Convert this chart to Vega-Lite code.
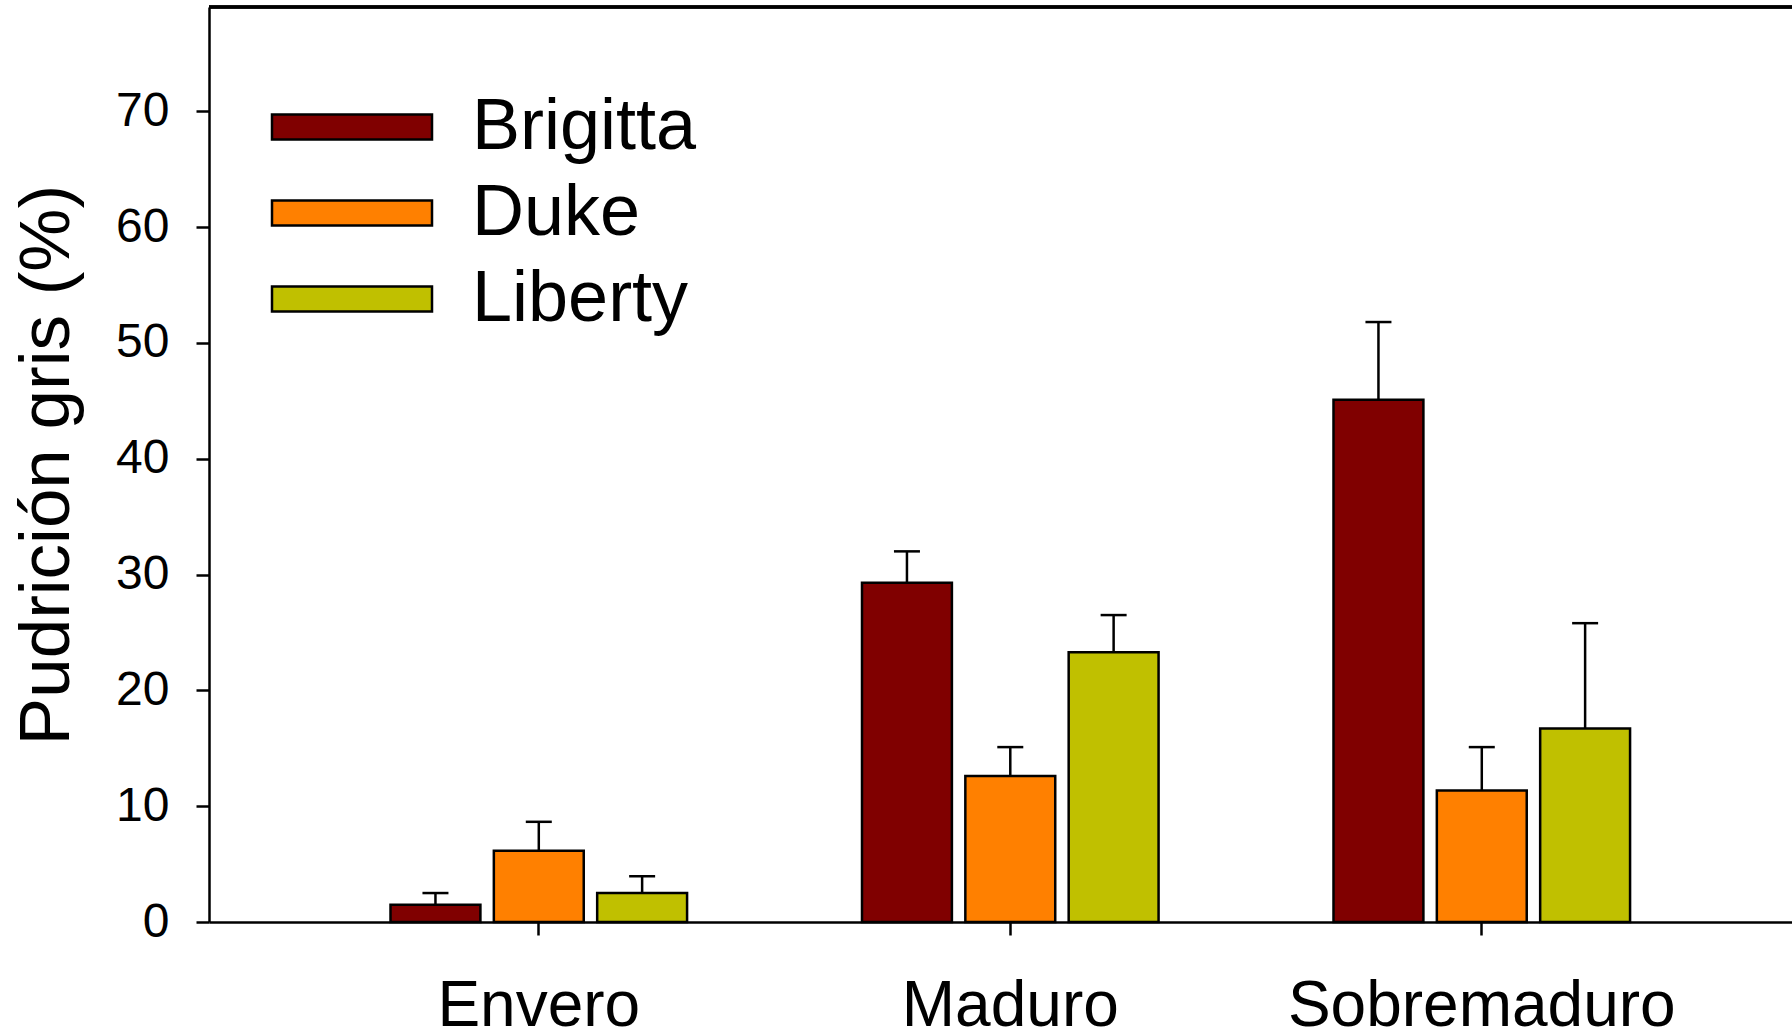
{
  "$schema": "https://vega.github.io/schema/vega-lite/v6.json",
  "width": 1583,
  "height": 915,
  "autosize": {"type": "none"},
  "padding": {"left": 209, "top": 7, "right": 0, "bottom": 109},
  "background": "white",
  "config": {
    "view": {"stroke": null},
    "font": "Liberation Sans",
    "axis": {"grid": false, "domainColor": "black", "domainWidth": 2.5, "tickColor": "black", "tickWidth": 2.5, "tickSize": 13, "labelColor": "black", "titleColor": "black", "labelFont": "Liberation Sans", "titleFont": "Liberation Sans"}
  },
  "data": {
    "values": [
      {"etapa": "Envero", "variedad": "Brigitta", "media": 1.5, "sup": 2.5},
      {"etapa": "Envero", "variedad": "Duke", "media": 6.15, "sup": 8.65},
      {"etapa": "Envero", "variedad": "Liberty", "media": 2.5, "sup": 3.95},
      {"etapa": "Maduro", "variedad": "Brigitta", "media": 29.3, "sup": 32.0},
      {"etapa": "Maduro", "variedad": "Duke", "media": 12.6, "sup": 15.1},
      {"etapa": "Maduro", "variedad": "Liberty", "media": 23.3, "sup": 26.5},
      {"etapa": "Sobremaduro", "variedad": "Brigitta", "media": 45.1, "sup": 51.8},
      {"etapa": "Sobremaduro", "variedad": "Duke", "media": 11.35, "sup": 15.1},
      {"etapa": "Sobremaduro", "variedad": "Liberty", "media": 16.7, "sup": 25.8}
    ]
  },
  "encoding": {
    "x": {
      "field": "etapa",
      "type": "nominal",
      "scale": {"domain": ["Envero", "Maduro", "Sobremaduro"], "paddingInner": 0.371, "paddingOuter": 0.3642, "align": 0.5285},
      "axis": {"title": null, "labelAngle": 0, "labelFontSize": 64, "labelBaseline": "alphabetic", "labelPadding": 90, "labelLimit": 0}
    },
    "xOffset": {
      "field": "variedad",
      "type": "nominal",
      "scale": {"domain": ["Brigitta", "Duke", "Liberty"], "paddingInner": 0.13, "paddingOuter": 0}
    }
  },
  "layer": [
    {
      "mark": {"type": "bar", "stroke": "black", "strokeWidth": 2.5, "opacity": 1},
      "encoding": {
        "y": {
          "field": "media",
          "type": "quantitative",
          "scale": {"domain": [0, 79], "nice": false},
          "axis": {
            "values": [0, 10, 20, 30, 40, 50, 60, 70],
            "title": "Pudrición gris (%)",
            "titleFontSize": 71,
            "titleFontWeight": "normal",
            "titleAngle": -90,
            "titleX": -141,
            "titleY": 457.5,
            "titleAlign": "center",
            "titleBaseline": "alphabetic",
            "labelFontSize": 48,
            "labelPadding": 27,
            "labelBaseline": "middle"
          }
        },
        "color": {
          "field": "variedad",
          "type": "nominal",
          "scale": {"domain": ["Brigitta", "Duke", "Liberty"], "range": ["#800000", "#FF8000", "#C0C000"]},
          "legend": {
            "orient": "none",
            "legendX": 107,
            "legendY": 84,
            "title": null,
            "padding": 0,
            "symbolType": "M-6.4,-1H6.4V1H-6.4Z",
            "symbolSize": 625,
            "symbolStrokeColor": "black",
            "symbolStrokeWidth": 2.5,
            "symbolOpacity": 1,
            "symbolOffset": 0,
            "labelFontSize": 72,
            "labelFont": "Liberation Sans",
            "labelColor": "black",
            "labelOffset": 84,
            "labelLimit": 0,
            "rowPadding": 14
          }
        }
      }
    },
    {
      "mark": {"type": "rule", "color": "black", "strokeWidth": 2.5},
      "encoding": {
        "y": {"field": "media", "type": "quantitative"},
        "y2": {"field": "sup"}
      }
    },
    {
      "mark": {"type": "tick", "color": "black", "thickness": 2.5, "size": 26, "opacity": 1},
      "encoding": {
        "y": {"field": "sup", "type": "quantitative"}
      }
    },
    {
      "mark": {"type": "rule", "color": "black", "strokeWidth": 2.5},
      "encoding": {
        "x": null,
        "xOffset": null,
        "y": {"datum": 79}
      }
    }
  ]
}
